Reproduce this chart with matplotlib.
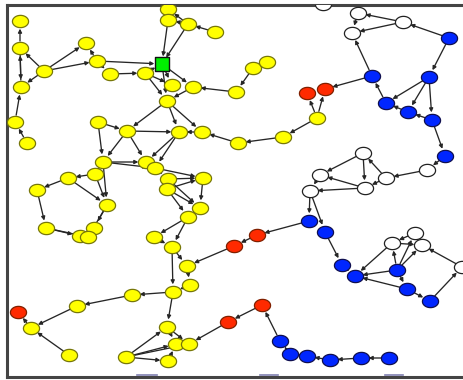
import matplotlib
matplotlib.use("Agg")
import matplotlib.pyplot as plt
import numpy as np
from matplotlib.path import Path

# ---- node data (pixel-like layout coordinates) ----
yellow_names = [f"y{i}" for i in range(1, 58)]
yellow_x = [20, 20, 44, 21, 15, 27, 86, 97, 110, 145, 168, 168, 188, 215, 172, 193, 167, 236, 253, 267,
            98, 127, 179, 202, 238, 283, 317, 103, 146, 155, 95, 68, 37, 168, 167, 203, 107, 200, 188,
            46, 94, 80, 88, 154, 172, 187, 190, 173, 132, 77, 31, 69, 167, 176, 189, 126, 168]
yellow_y = [21, 48, 71, 87, 122, 143, 43, 61, 74, 73, 9, 20, 24, 32, 85, 87, 101, 92, 68, 62,
            122, 131, 132, 132, 143, 137, 118, 162, 162, 168, 174, 178, 190, 179, 189, 178, 205, 208, 217,
            228, 228, 236, 237, 237, 247, 266, 285, 292, 295, 306, 328, 355, 327, 344, 344, 357, 361]

red_names = ["r1", "r2", "r3", "r4", "r5", "r6", "r7"]
red_x = [307, 325, 257, 234, 18, 262, 228]
red_y = [93, 89, 235, 246, 312, 305, 322]

white_names = [f"w{i}" for i in range(1, 15)]
white_x = [323, 358, 403, 352, 363, 320, 386, 427, 365, 310, 415, 392, 422, 462]
white_y = [4, 13, 22, 33, 153, 175, 178, 170, 188, 191, 233, 243, 245, 267]

blue_names = [f"b{i}" for i in range(1, 21)]
blue_x = [449, 372, 429, 386, 408, 432, 445, 309, 325, 342, 355, 397, 407, 430, 280, 290, 307, 330, 361, 389]
blue_y = [38, 76, 77, 103, 112, 120, 156, 221, 232, 265, 276, 270, 289, 301, 341, 354, 356, 360, 358, 358]

green_names = ["G"]
green_x = [162]
green_y = [64]

edges = [
    ("y2", "y1"), ("y3", "y2"), ("y4", "y2"), ("y2", "y4"), ("y3", "y4"), ("y5", "y4"), ("y6", "y5"),
    ("y3", "y7"), ("y8", "y7"), ("y3", "y8"), ("y8", "y9"), ("y9", "y10"), ("y8", "G"),
    ("y10", "G"), ("y12", "G"), ("y13", "G"), ("y12", "y11"), ("y13", "y11"), ("y13", "y12"),
    ("y14", "y13"), ("G", "y15"), ("G", "y16"), ("G", "y17"), ("y10", "y17"), ("y10", "y15"),
    ("y18", "y16"), ("y19", "y18"), ("y20", "y19"), ("y16", "y17"),
    ("y17", "y22"), ("y17", "y23"), ("y17", "y24"), ("y21", "y22"), ("y22", "y23"), ("y24", "y23"),
    ("y25", "y24"), ("y26", "y25"), ("y27", "y26"), ("y27", "r1"), ("y27", "r2"), ("b2", "r2"),
    ("y21", "y28"), ("y22", "y28"), ("y22", "y29"), ("y23", "y29"), ("y23", "y30"), ("y28", "y29"),
    ("y28", "y30"), ("y29", "y34"), ("y30", "y34"), ("y28", "y31"), ("y31", "y32"), ("y32", "y33"),
    ("y33", "y40"), ("y40", "y42"), ("y40", "y43"), ("y31", "y37"), ("y28", "y37"), ("y32", "y37"),
    ("y37", "y41"), ("y37", "y43"), ("y41", "y43"),
    ("y34", "y36"), ("y35", "y36"), ("y30", "y36"), ("y34", "y35"), ("y34", "y38"), ("y35", "y38"),
    ("y35", "y39"), ("y36", "y38"), ("y38", "y39"), ("y39", "y44"), ("y39", "y45"), ("y44", "y45"),
    ("y45", "y46"), ("r4", "y46"), ("y46", "y47"), ("y45", "y48"), ("y47", "y48"),
    ("y48", "y49"), ("y49", "y50"), ("y50", "y51"), ("y51", "r5"), ("y52", "y51"), ("y48", "y53"),
    ("y53", "y54"), ("y53", "y55"), ("y56", "y53"), ("y56", "y54"), ("y56", "y55"), ("y56", "y57"),
    ("y57", "y54"), ("y54", "y55"), ("r7", "y55"),
    ("r6", "r7"), ("b15", "r6"), ("b16", "b15"), ("b17", "b16"), ("b18", "b17"), ("b19", "b18"),
    ("b20", "b19"),
    ("r3", "r4"), ("b8", "r3"), ("w10", "b8"), ("w10", "b9"), ("b9", "b10"), ("b10", "b11"),
    ("b12", "b11"), ("w12", "b11"), ("b12", "w12"), ("b12", "w11"), ("b12", "w13"), ("b12", "b13"),
    ("b13", "b14"), ("b13", "b11"), ("w11", "w12"), ("w13", "w11"), ("w14", "w13"), ("b14", "w14"),
    ("w12", "w13"),
    ("w6", "w10"), ("w5", "w6"), ("w9", "w6"), ("w9", "w10"), ("w5", "w9"), ("w7", "w5"),
    ("w7", "w9"), ("w8", "w7"), ("b7", "w8"), ("b6", "b7"),
    ("b3", "b6"), ("b6", "b5"), ("b5", "b4"), ("b3", "b4"), ("b3", "b5"), ("b4", "b2"), ("b1", "b3"),
    ("b2", "w4"), ("w3", "w2"), ("w3", "w4"), ("b1", "w3"), ("w2", "w1"), ("w4", "w1"), ("w2", "w4"),
]

tick_marks_x = [(137, 157), (260, 278), (385, 403)]

# ---- build lookup ----
pos = {}
for names, xs, ys in [(yellow_names, yellow_x, yellow_y), (red_names, red_x, red_y),
                      (white_names, white_x, white_y), (blue_names, blue_x, blue_y),
                      (green_names, green_x, green_y)]:
    for n, x, y in zip(names, xs, ys):
        pos[n] = (x, y)

W, H = 464, 380
fig = plt.figure(figsize=(W / 100, H / 100), dpi=100)
left, right, top, bottom = 7, 472, 5, 377
ax = fig.add_axes([left / W, (H - bottom) / H, (right - left) / W, (bottom - top) / H])
ax.set_xlim(left, right)
ax.set_ylim(bottom, top)
ax.set_xticks([])
ax.set_yticks([])
for s in ax.spines.values():
    s.set_color("#444444")
    s.set_linewidth(2.2)
ax.spines["right"].set_visible(False)

# edges
for a, b in edges:
    ax.annotate("", xy=pos[b], xytext=pos[a],
                arrowprops=dict(arrowstyle="-|>", color="#262626", lw=0.95,
                                shrinkA=5, shrinkB=5.5, mutation_scale=5.5),
                zorder=1, annotation_clip=True)

# ellipse marker
t = np.linspace(0, 2 * np.pi, 60)
ell = Path(np.column_stack([np.cos(t), 0.76 * np.sin(t)]), closed=True)

ms = 135
ax.scatter(yellow_x, yellow_y, s=ms, marker=ell, facecolor="#ffff00", edgecolor="#77770a", linewidth=0.9, zorder=3)
ax.scatter(red_x, red_y, s=ms, marker=ell, facecolor="#ff2a00", edgecolor="#802000", linewidth=0.9, zorder=3)
ax.scatter(white_x, white_y, s=ms, marker=ell, facecolor="white", edgecolor="#222222", linewidth=0.9, zorder=3)
ax.scatter(blue_x, blue_y, s=ms, marker=ell, facecolor="#0026ff", edgecolor="#101050", linewidth=0.9, zorder=3)
ax.scatter(green_x, green_y, s=105, marker="s", facecolor="#00ee00", edgecolor="#111111", linewidth=1.0, zorder=4)

for x0, x1 in tick_marks_x:
    ax.plot([x0, x1], [375, 375], color="#8080b0", lw=1.2, clip_on=False, zorder=5)

fig.savefig("out.png", dpi=100)
